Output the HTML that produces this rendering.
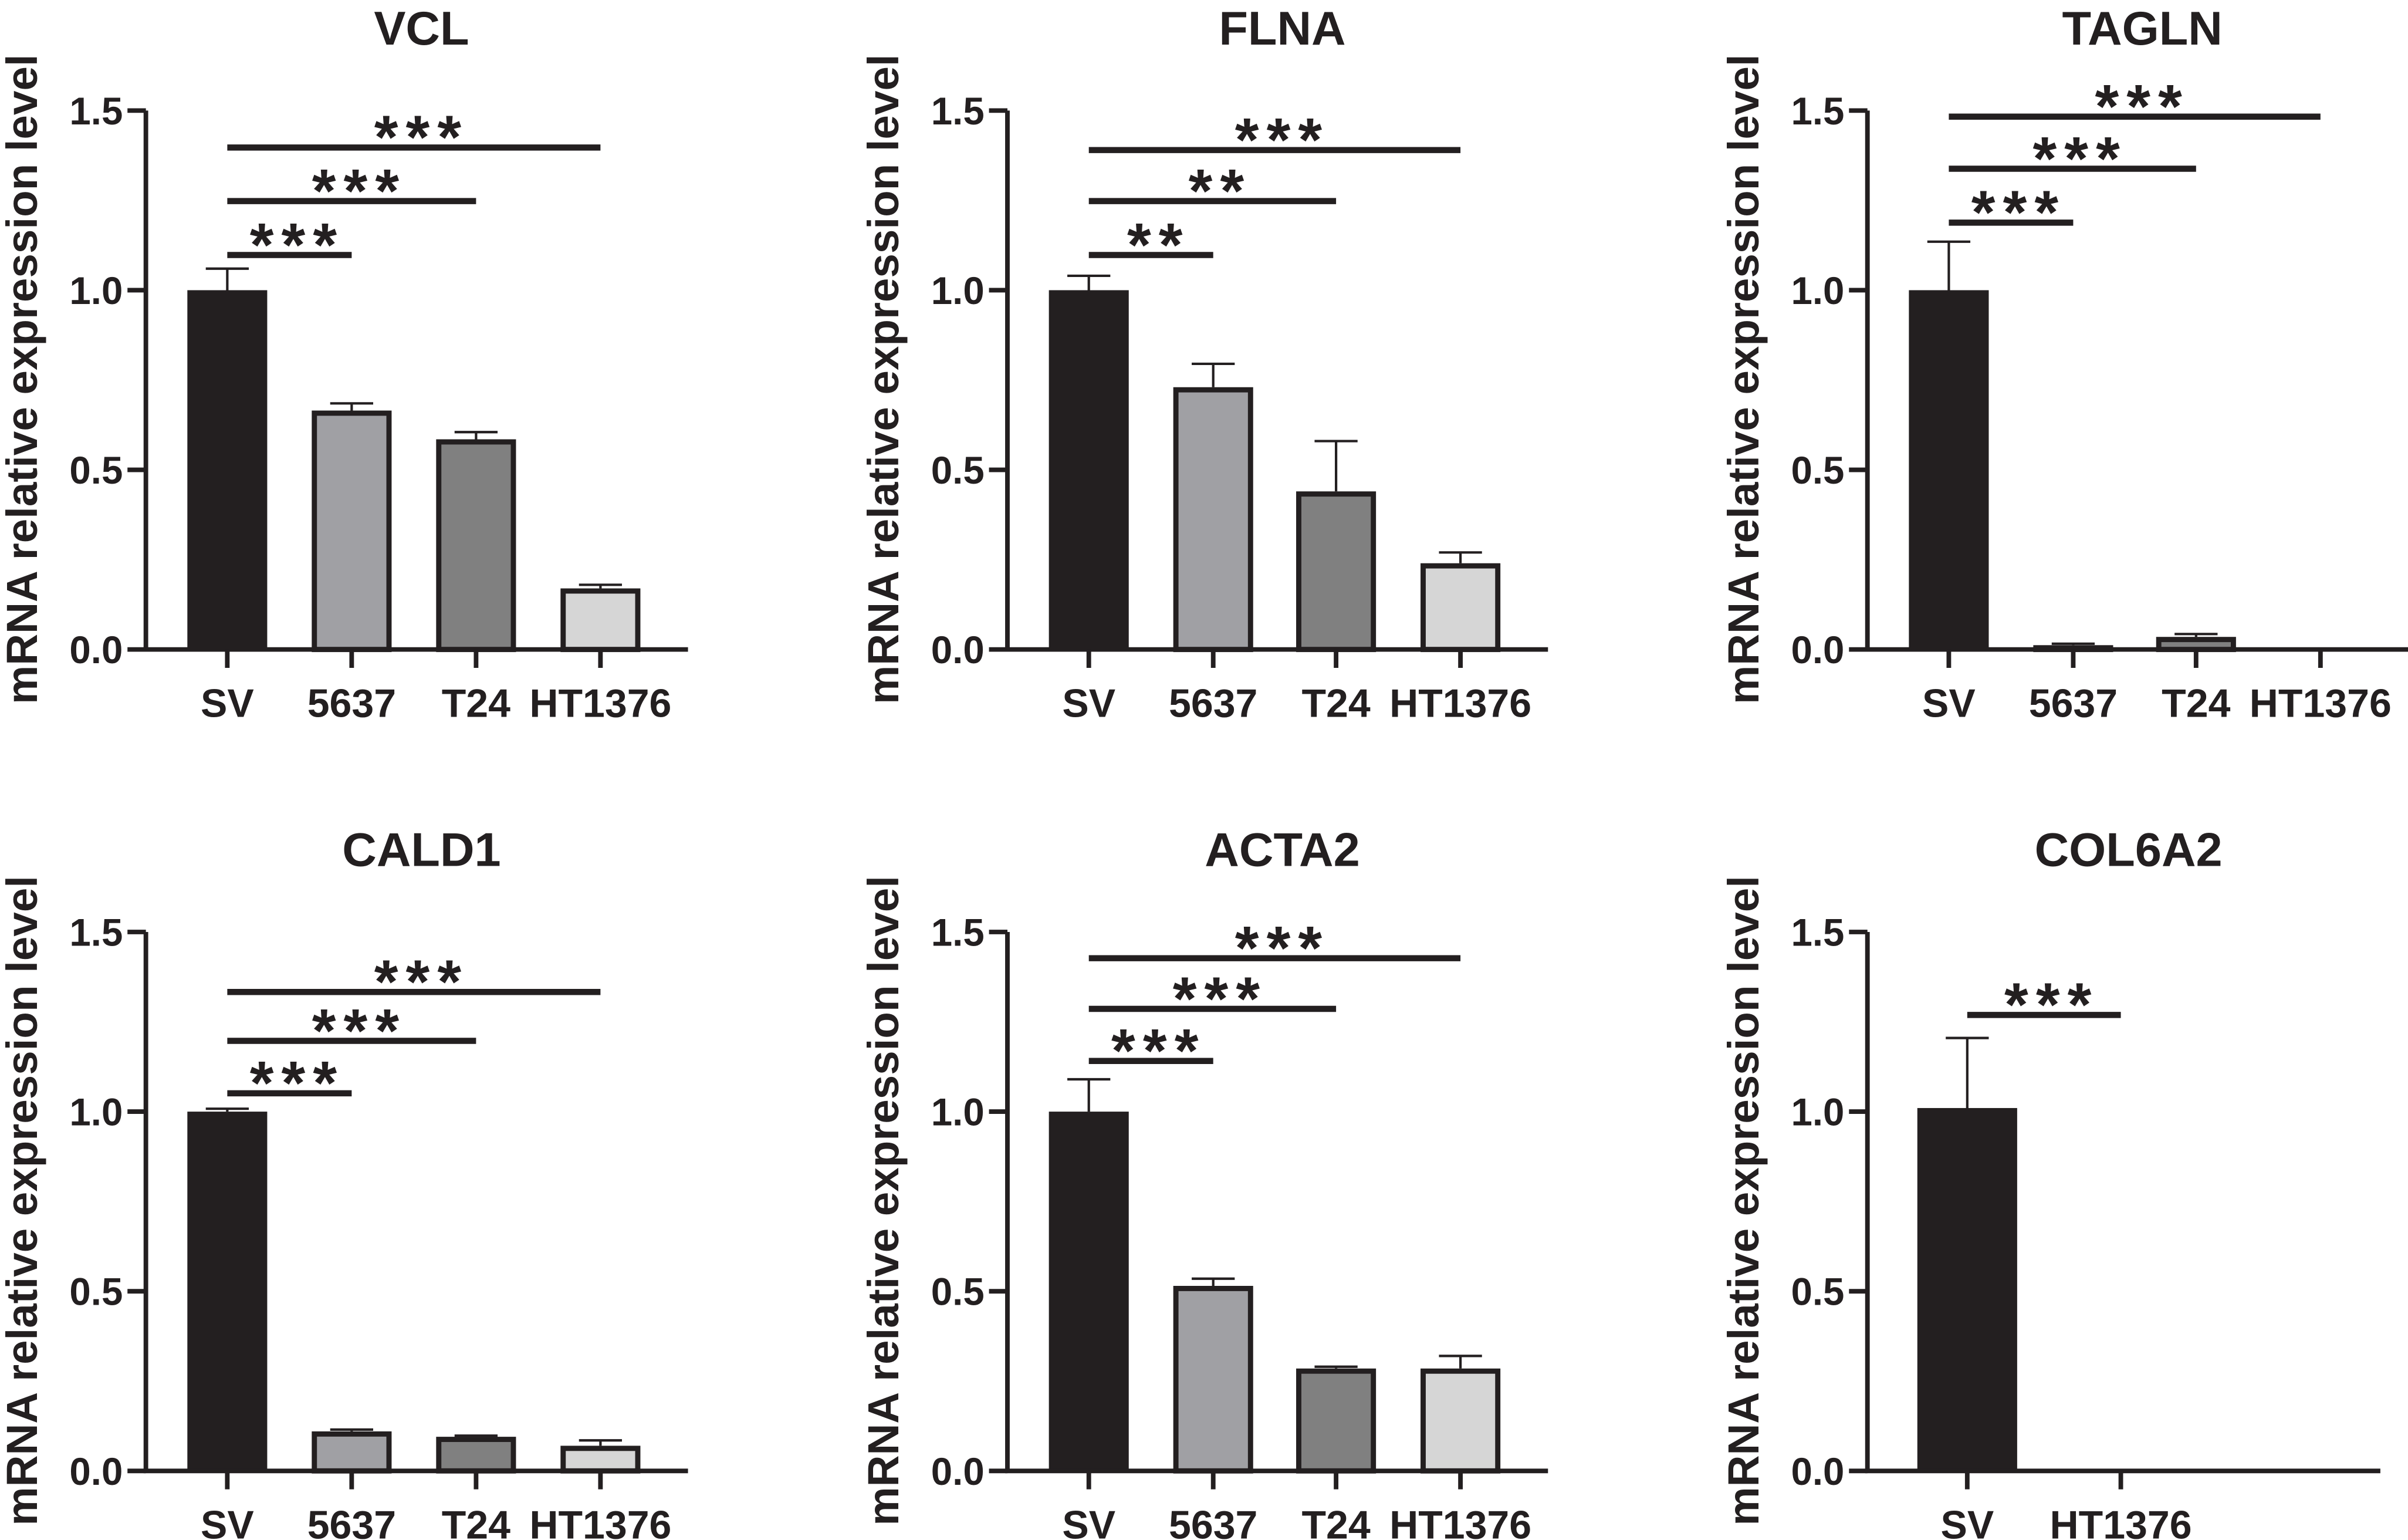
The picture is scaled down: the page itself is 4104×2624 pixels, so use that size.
<!DOCTYPE html>
<html><head><meta charset="utf-8"><style>
html,body{margin:0;padding:0;background:#fff;}
svg{display:block;}
text{font-family:"Liberation Sans",Arial,sans-serif;font-weight:bold;fill:#231f20;}
</style></head>
<body>
<svg id="fig" xmlns="http://www.w3.org/2000/svg" width="4104" height="2624" viewBox="0 0 1568 1003" preserveAspectRatio="none"></svg>
<script>
const titles = ["VCL","FLNA","TAGLN","CALD1","ACTA2","COL6A2"];
const cats4 = ["SV","5637","T24","HT1376"];
const cats2 = ["SV","HT1376"];
const valVCL = [1.0,0.665,0.585,0.17];
const errVCL = [0.06,0.02,0.02,0.01];
const valFLNA = [1.0,0.73,0.44,0.24];
const errFLNA = [0.04,0.065,0.14,0.03];
const valTAGLN = [1.0,0.012,0.035,0.002];
const errTAGLN = [0.135,0.004,0.008,0.0];
const valCALD1 = [1.0,0.11,0.095,0.07];
const errCALD1 = [0.008,0.005,0.003,0.015];
const valACTA2 = [1.0,0.515,0.285,0.285];
const errACTA2 = [0.09,0.02,0.005,0.035];
const valCOL6A2 = [1.01,0.0];
const errCOL6A2 = [0.195,0.0];
const yTicks = [0.0,0.5,1.0,1.5];
const yTickLabels = ["0.0","0.5","1.0","1.5"];
const sigVCL = [[1,1.098,"***"],[2,1.248,"***"],[3,1.397,"***"]];
const sigFLNA = [[1,1.098,"**"],[2,1.248,"**"],[3,1.39,"***"]];
const sigTAGLN = [[1,1.188,"***"],[2,1.338,"***"],[3,1.483,"***"]];
const sigCALD1 = [[1,1.051,"***"],[2,1.197,"***"],[3,1.333,"***"]];
const sigACTA2 = [[1,1.141,"***"],[2,1.286,"***"],[3,1.427,"***"]];
const sigCOL6A2 = [[1,1.269,"***"]];

const fills = {"SV":"#231f20","5637":"#a0a0a4","T24":"#808080","HT1376":"#d6d6d6"};
const NS="http://www.w3.org/2000/svg";
const svg=document.getElementById('fig');
function el(tag,attrs,parent){const e=document.createElementNS(NS,tag);for(const k in attrs)e.setAttribute(k,attrs[k]);(parent||svg).appendChild(e);return e;}

const panels=[
 {ax:95,y0:423,cats:cats4,v:valVCL,e:errVCL,s:sigVCL,xs:[148,229,310,391],bw:52,xend:448},
 {ax:656,y0:423,cats:cats4,v:valFLNA,e:errFLNA,s:sigFLNA,xs:[709,790,870,951],bw:52,xend:1008},
 {ax:1216,y0:423,cats:cats4,v:valTAGLN,e:errTAGLN,s:sigTAGLN,xs:[1269,1350,1430,1511],bw:52,xend:1568},
 {ax:95,y0:958,cats:cats4,v:valCALD1,e:errCALD1,s:sigCALD1,xs:[148,229,310,391],bw:52,xend:448},
 {ax:656,y0:958,cats:cats4,v:valACTA2,e:errACTA2,s:sigACTA2,xs:[709,790,870,951],bw:52,xend:1008},
 {ax:1216,y0:958,cats:cats2,v:valCOL6A2,e:errCOL6A2,s:sigCOL6A2,xs:[1281,1381],bw:65,xend:1550}
];
const unit=234;
panels.forEach((p,pi)=>{
  const g=el('g',{});
  
  
  const y=v=>p.y0-v*unit;
  const t=el('text',{x:(p.ax+p.xend)/2+3,y:p.y0-394,'font-size':31,'text-anchor':'middle'},g);
  t.textContent=titles[pi];
  
  
  const yl=el('text',{transform:`translate(${p.ax-71},${p.y0-176}) rotate(-90)`,'font-size':28.5,'text-anchor':'middle'},g);
  yl.textContent='mRNA relative expression level';
  
  
  p.v.forEach((v,i)=>{
    const cx=p.xs[i],c=p.cats[i];
    if(v<=0.004) return;
    const top=y(v),et=y(v+p.e[i]);
    if(p.e[i]>0){
      const eb=el('path',{d:`M${cx},${top}V${et}M${cx-14},${et}H${cx+14}`,stroke:'#231f20','stroke-width':1.6,fill:'none'},g);
      
      
    }
    const sw=c==='SV'?0:3.4;
    const h=Math.max(p.y0-top,0.5);
    const r=el('rect',{x:cx-p.bw/2+sw/2,y:top+sw/2,width:p.bw-sw,height:Math.max(h-sw/2,0.5),fill:fills[c],stroke:'#231f20','stroke-width':sw},g);
    
    
  });
  const axl=el('path',{d:`M${p.ax},${y(1.5)}V${p.y0}H${p.xend}`,stroke:'#231f20','stroke-width':3,fill:'none'},g);
  
  
  yTicks.forEach((tv,i)=>{
    el('line',{x1:p.ax-12,x2:p.ax,y1:y(tv),y2:y(tv),stroke:'#231f20','stroke-width':3},g);
    const tl=el('text',{x:p.ax-15,y:y(tv)+9,'font-size':25,'text-anchor':'end'},g);
    tl.textContent=yTickLabels[i];
    
    
  });
  p.cats.forEach((c,i)=>{
    el('line',{x1:p.xs[i],x2:p.xs[i],y1:p.y0,y2:p.y0+12,stroke:'#231f20','stroke-width':3},g);
    const xl=el('text',{x:p.xs[i],y:p.y0+44,'font-size':26,'text-anchor':'middle'},g);
    xl.textContent=c;
    
    
  });
  p.s.forEach(s=>{
    const x1=p.xs[0],x2=p.xs[s[0]],ly=y(s[1]);
    const ln=el('line',{x1:x1,x2:x2,y1:ly,y2:ly,stroke:'#231f20','stroke-width':4},g);
    
    
    const st=el('text',{x:(x1+x2)/2+5,y:ly+7,'font-size':40,'text-anchor':'middle','letter-spacing':5},g);
    st.textContent=s[2];
    
    
  });
});
</script>
</body></html>
